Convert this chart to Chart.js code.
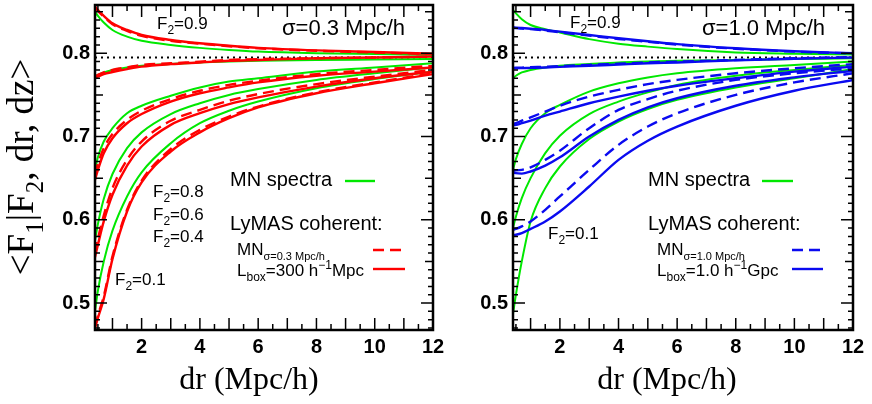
<!DOCTYPE html>
<html>
<head>
<meta charset="utf-8">
<script src="https://cdn.jsdelivr.net/npm/chart.js@4.4.1/dist/chart.umd.min.js"></script>
<style>
  html, body { margin: 0; padding: 0; background: #fff; }
  #wrap { position: relative; width: 872px; height: 404px; overflow: hidden; }
  canvas { position: absolute; top: 0; }
</style>
</head>
<body>
<div id="wrap">
  <canvas id="left" width="450" height="404" style="left:0"></canvas>
  <canvas id="right" width="436" height="404" style="left:436px"></canvas>
</div>
<script>
// separation dr (Mpc/h) where the curves are sampled
const dr = [0.4, 0.5, 0.7, 1, 1.5, 2, 3, 4, 5, 6, 8, 10, 12];
const meanFlux = 0.795;
const xTicks = [2, 4, 6, 8, 10, 12];
const yTicks = [0.5, 0.6, 0.7, 0.8];

// sigma = 0.3 Mpc/h : MN spectra (green), LyMAS MN (dashed), LyMAS Lbox (solid)
const mnA_09 = [0.850, 0.845, 0.837, 0.828, 0.820, 0.815, 0.810, 0.8065, 0.804, 0.802, 0.800, 0.799, 0.798];
const dashA_09 = [0.855, 0.851, 0.844, 0.835, 0.827, 0.821, 0.815, 0.8115, 0.8085, 0.806, 0.803, 0.801, 0.799];
const boxA_09 = [0.856, 0.852, 0.845, 0.836, 0.828, 0.822, 0.816, 0.812, 0.809, 0.8065, 0.8035, 0.8015, 0.7995];

const mnA_08 = [0.772, 0.774, 0.777, 0.780, 0.783, 0.785, 0.787, 0.789, 0.790, 0.791, 0.792, 0.7925, 0.793];
const dashA_08 = [0.772, 0.774, 0.777, 0.780, 0.783, 0.786, 0.788, 0.790, 0.792, 0.793, 0.794, 0.795, 0.796];
const boxA_08 = [0.771, 0.772, 0.775, 0.7775, 0.781, 0.784, 0.787, 0.789, 0.791, 0.792, 0.794, 0.795, 0.796];

const mnA_06 = [0.660, 0.675, 0.694, 0.710, 0.728, 0.737, 0.749, 0.759, 0.766, 0.770, 0.778, 0.783, 0.788];
const dashA_06 = [0.654, 0.667, 0.686, 0.703, 0.720, 0.731, 0.745, 0.755, 0.762, 0.767, 0.775, 0.780, 0.785];
const boxA_06 = [0.648, 0.660, 0.680, 0.698, 0.716, 0.727, 0.742, 0.752, 0.759, 0.765, 0.773, 0.778, 0.783];

const mnA_04 = [0.575, 0.595, 0.625, 0.655, 0.686, 0.705, 0.727, 0.740, 0.750, 0.757, 0.768, 0.776, 0.783];
const dashA_04 = [0.560, 0.577, 0.605, 0.638, 0.672, 0.694, 0.719, 0.732, 0.743, 0.751, 0.763, 0.772, 0.780];
const boxA_04 = [0.555, 0.570, 0.598, 0.630, 0.665, 0.688, 0.714, 0.728, 0.739, 0.747, 0.760, 0.770, 0.778];

const mnA_01 = [0.490, 0.515, 0.550, 0.587, 0.628, 0.657, 0.692, 0.716, 0.731, 0.742, 0.758, 0.769, 0.778];
const dashA_01 = [0.472, 0.485, 0.508, 0.556, 0.612, 0.647, 0.685, 0.708, 0.724, 0.736, 0.753, 0.765, 0.776];
const boxA_01 = [0.470, 0.482, 0.505, 0.553, 0.610, 0.645, 0.682, 0.705, 0.722, 0.735, 0.752, 0.764, 0.775];

// sigma = 1.0 Mpc/h
const mnB_09 = [0.852, 0.848, 0.841, 0.834, 0.829, 0.825, 0.817, 0.8115, 0.808, 0.805, 0.801, 0.7995, 0.7985];
const dashB_09 = [0.8305, 0.8302, 0.8297, 0.829, 0.8273, 0.8252, 0.8212, 0.8172, 0.8138, 0.8105, 0.8055, 0.802, 0.7998];
const boxB_09 = [0.831, 0.8308, 0.8303, 0.8295, 0.828, 0.826, 0.822, 0.818, 0.8145, 0.811, 0.806, 0.8025, 0.800];

const mnB_08 = [0.770, 0.773, 0.777, 0.780, 0.783, 0.785, 0.787, 0.789, 0.790, 0.791, 0.792, 0.793, 0.794];
const dashB_08 = [0.7825, 0.7826, 0.7828, 0.7832, 0.7838, 0.7845, 0.786, 0.7875, 0.789, 0.790, 0.792, 0.794, 0.7955];
const boxB_08 = [0.782, 0.782, 0.7822, 0.7825, 0.783, 0.7837, 0.785, 0.7865, 0.788, 0.789, 0.7915, 0.7935, 0.795];

const mnB_06 = [0.660, 0.673, 0.691, 0.710, 0.728, 0.738, 0.754, 0.764, 0.771, 0.776, 0.782, 0.786, 0.790];
const dashB_06 = [0.715, 0.716, 0.719, 0.723, 0.730, 0.737, 0.748, 0.756, 0.763, 0.768, 0.776, 0.782, 0.787];
const boxB_06 = [0.7135, 0.714, 0.716, 0.719, 0.725, 0.730, 0.740, 0.748, 0.755, 0.761, 0.770, 0.778, 0.784];

const mnB_04 = [0.590, 0.604, 0.626, 0.650, 0.680, 0.701, 0.727, 0.742, 0.753, 0.762, 0.773, 0.780, 0.786];
const dashB_04 = [0.660, 0.6595, 0.660, 0.663, 0.672, 0.683, 0.710, 0.732, 0.745, 0.755, 0.768, 0.776, 0.782];
const boxB_04 = [0.6576, 0.656, 0.6555, 0.658, 0.665, 0.675, 0.700, 0.720, 0.735, 0.746, 0.761, 0.771, 0.779];

const mnB_01 = [0.487, 0.510, 0.550, 0.598, 0.638, 0.664, 0.697, 0.718, 0.733, 0.744, 0.759, 0.770, 0.781];
const dashB_01 = [0.588, 0.589, 0.592, 0.598, 0.612, 0.628, 0.660, 0.690, 0.712, 0.728, 0.750, 0.765, 0.776];
const boxB_01 = [0.5815, 0.582, 0.584, 0.589, 0.598, 0.610, 0.640, 0.672, 0.695, 0.712, 0.737, 0.755, 0.768];

const GREEN = '#00e800';
const RED = '#ff0000';
const BLUE = '#0a0af0';

function pts(arr) {
  return dr.map((x, i) => ({ x: x, y: arr[i] }));
}

function panelDatasets(mn, dash, box, col) {
  const sets = [];
  for (let i = 0; i < mn.length; i++) {
    sets.push({ data: pts(box[i]), borderColor: col, borderWidth: 2.4, order: 1 });
    sets.push({ data: pts(dash[i]), borderColor: col, borderWidth: 2.4, borderDash: [11, 6], order: 2 });
    sets.push({ data: pts(mn[i]), borderColor: GREEN, borderWidth: 2, order: 3 });
  }
  // mean flux reference
  sets.push({
    data: [{ x: dr[0], y: meanFlux }, { x: dr[dr.length - 1], y: meanFlux }],
    borderColor: '#000', borderWidth: 2, borderDash: [2, 4], order: 4, cubicInterpolationMode: 'default'
  });
  return sets;
}

// text with sub/superscripts; parts = [text, mode(0 normal,1 sub,2 sup), size?]
function richText(ctx, x, y, parts, size, family, align) {
  const sz = p => p[2] || (p[1] ? Math.round(size * 0.68) : size);
  let w = 0;
  parts.forEach(p => { ctx.font = sz(p) + 'px ' + family; w += ctx.measureText(p[0]).width; });
  let cx = align === 'center' ? x - w / 2 : x;
  parts.forEach(p => {
    ctx.font = sz(p) + 'px ' + family;
    const dy = p[1] === 1 ? size * 0.28 : (p[1] === 2 ? -size * 0.4 : 0);
    ctx.fillText(p[0], cx, y + dy);
    cx += ctx.measureText(p[0]).width;
  });
}

function makeDecor(cfg) {
  return {
    id: 'decor',
    afterDraw(chart) {
      const ctx = chart.ctx, a = chart.chartArea;
      const xs = chart.scales.x, ys = chart.scales.y;
      ctx.save();
      ctx.strokeStyle = '#000';
      ctx.lineWidth = 1.5;
      ctx.beginPath();
      for (let k = 47; k <= 85; k++) {
        const py = ys.getPixelForValue(k / 100);
        const len = k % 10 === 0 ? 12 : (k % 5 === 0 ? 8 : 5);
        ctx.moveTo(a.left, py); ctx.lineTo(a.left + len, py);
        ctx.moveTo(a.right, py); ctx.lineTo(a.right - len, py);
      }
      for (let k = 1; k < 24; k++) {
        const px = xs.getPixelForValue(k / 2);
        const len = k % 2 === 0 ? 12 : 6;
        ctx.moveTo(px, a.bottom); ctx.lineTo(px, a.bottom - len);
        ctx.moveTo(px, a.top); ctx.lineTo(px, a.top + len);
      }
      ctx.stroke();
      ctx.lineWidth = 2.5;
      ctx.strokeRect(a.left, a.top, a.right - a.left, a.bottom - a.top);

      const o = cfg.offset;
      ctx.fillStyle = '#000';
      ctx.textBaseline = 'alphabetic';
      ctx.textAlign = 'left';
      const sans = '"Liberation Sans", Arial, sans-serif';
      const serif = '"Liberation Serif", "Times New Roman", serif';
      cfg.labels.forEach(l => richText(ctx, l.x - o, l.y, l.parts, l.size, sans, 'left'));
      // legend keys
      cfg.keys.forEach(k => {
        ctx.beginPath();
        ctx.strokeStyle = k.color;
        ctx.lineWidth = 2.4;
        ctx.setLineDash(k.dash || []);
        ctx.moveTo(k.x1 - o, k.y); ctx.lineTo(k.x2 - o, k.y);
        ctx.stroke();
      });
      ctx.setLineDash([]);
      richText(ctx, cfg.xTitleX - o, 389, [['dr (Mpc/h)', 0]], 32, serif, 'center');
      if (cfg.yTitle) {
        ctx.translate(33, 167);
        ctx.rotate(-Math.PI / 2);
        richText(ctx, 0, 0, [['<F', 0], ['1', 1], ['|F', 0], ['2', 1], [', dr, dz>', 0]], 37, serif, 'center');
      }
      ctx.restore();
    }
  };
}

function f2(x, y, v) {
  return { x: x, y: y, size: 17, parts: [['F', 0], ['2', 1, 12], ['=' + v, 0]] };
}

function makeChart(id, datasets, yWidth, padRight, cfg) {
  return new Chart(document.getElementById(id), {
    type: 'line',
    data: { datasets: datasets },
    options: {
      responsive: false,
      animation: false,
      events: [],
      layout: { padding: { top: 5, right: padRight, bottom: 0, left: 0 } },
      elements: {
        point: { radius: 0 },
        line: { cubicInterpolationMode: 'monotone', fill: false }
      },
      plugins: { legend: { display: false }, tooltip: { enabled: false } },
      scales: {
        x: {
          type: 'linear', min: 0.4, max: 12,
          grid: { display: false, drawTicks: false },
          border: { display: false },
          afterBuildTicks: s => { s.ticks = xTicks.map(v => ({ value: v })); },
          ticks: {
            color: '#000', padding: 5, maxRotation: 0, autoSkip: false,
            font: { family: '"Liberation Sans", Arial, sans-serif', weight: 'bold', size: 20 }
          },
          afterFit: s => { s.height = 74; s.paddingLeft = 0; s.paddingRight = 0; }
        },
        y: {
          type: 'linear', min: 0.4676, max: 0.858,
          grid: { display: false, drawTicks: false },
          border: { display: false },
          afterBuildTicks: s => { s.ticks = yTicks.map(v => ({ value: v })); },
          ticks: {
            color: '#000', padding: 5,
            callback: v => v.toFixed(1),
            font: { family: '"Liberation Sans", Arial, sans-serif', weight: 'bold', size: 20 }
          },
          afterFit: s => { s.width = yWidth; s.paddingTop = 0; s.paddingBottom = 0; }
        }
      }
    },
    plugins: [makeDecor(cfg)]
  });
}

makeChart('left',
  panelDatasets([mnA_09, mnA_08, mnA_06, mnA_04, mnA_01],
                [dashA_09, dashA_08, dashA_06, dashA_04, dashA_01],
                [boxA_09, boxA_08, boxA_06, boxA_04, boxA_01], RED),
  95, 17,
  {
    offset: 0, xTitleX: 249, yTitle: true,
    labels: [
      f2(157, 29, '0.9'), f2(153, 197, '0.8'), f2(153, 220, '0.6'), f2(153, 242, '0.4'), f2(115, 285, '0.1'),
      { x: 282, y: 35, size: 22, parts: [['σ=0.3 Mpc/h', 0]] },
      { x: 230, y: 186, size: 20, parts: [['MN spectra', 0]] },
      { x: 230, y: 230, size: 20, parts: [['LyMAS coherent:', 0]] },
      { x: 237, y: 255, size: 17, parts: [['MN', 0], ['σ=0.3 Mpc/h', 1, 11]] },
      { x: 237, y: 276, size: 17, parts: [['L', 0], ['box', 1, 12], ['=300 h', 0], ['−1', 2, 12], ['Mpc', 0]] }
    ],
    keys: [
      { x1: 345, x2: 375, y: 181, color: GREEN },
      { x1: 373, x2: 405, y: 250, color: RED, dash: [11, 6] },
      { x1: 373, x2: 405, y: 269, color: RED }
    ]
  });

makeChart('right',
  panelDatasets([mnB_09, mnB_08, mnB_06, mnB_04, mnB_01],
                [dashB_09, dashB_08, dashB_06, dashB_04, dashB_01],
                [boxB_09, boxB_08, boxB_06, boxB_04, boxB_01], BLUE),
  77, 19,
  {
    offset: 436, xTitleX: 667, yTitle: false,
    labels: [
      f2(570, 28, '0.9'), f2(548, 239, '0.1'),
      { x: 702, y: 35, size: 22, parts: [['σ=1.0 Mpc/h', 0]] },
      { x: 648, y: 186, size: 20, parts: [['MN spectra', 0]] },
      { x: 648, y: 230, size: 20, parts: [['LyMAS coherent:', 0]] },
      { x: 657, y: 255, size: 17, parts: [['MN', 0], ['σ=1.0 Mpc/h', 1, 11]] },
      { x: 657, y: 276, size: 17, parts: [['L', 0], ['box', 1, 12], ['=1.0 h', 0], ['−1', 2, 12], ['Gpc', 0]] }
    ],
    keys: [
      { x1: 762, x2: 793, y: 181, color: GREEN },
      { x1: 792, x2: 823, y: 250, color: BLUE, dash: [11, 6] },
      { x1: 792, x2: 823, y: 269, color: BLUE }
    ]
  });
</script>
</body>
</html>
